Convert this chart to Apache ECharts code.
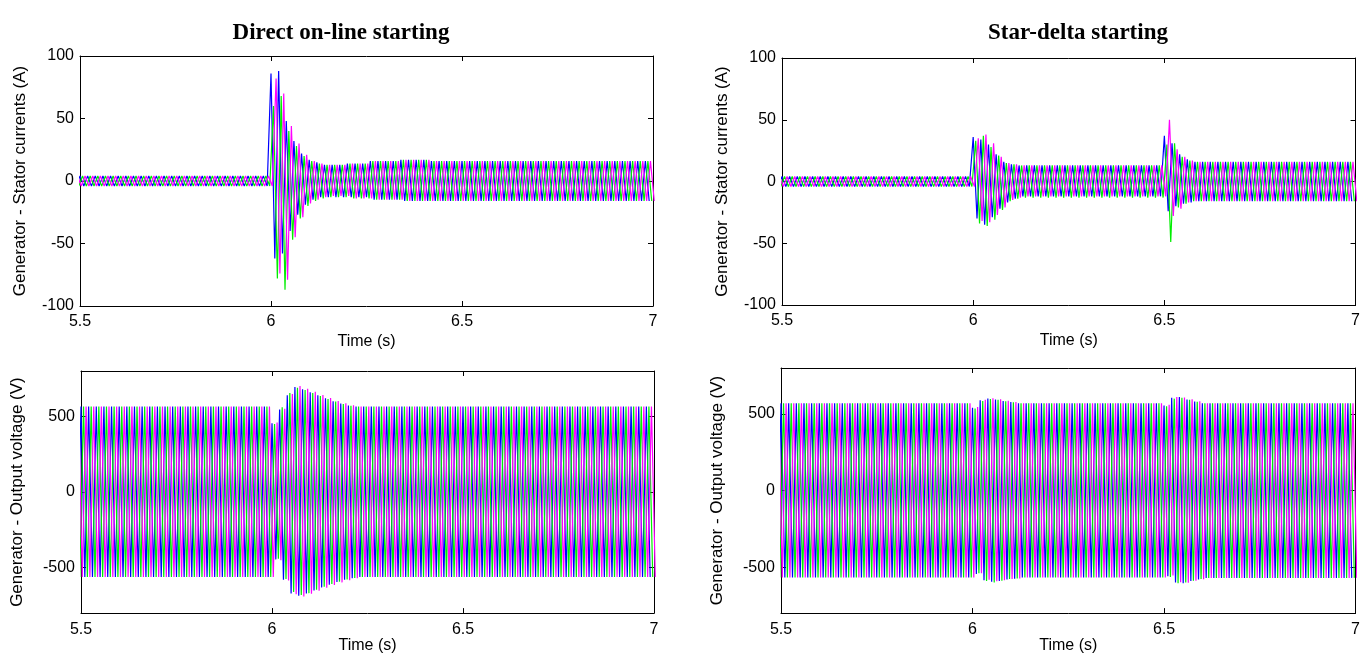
<!DOCTYPE html>
<html lang="en">
<head>
<meta charset="UTF-8">
<title>Generator starting</title>
<style>
  html, body { margin: 0; padding: 0; background: #fff; }
  #main { width: 1363px; height: 655px; }
</style>
</head>
<body>
<div id="main"></div>
<script src="https://cdn.jsdelivr.net/npm/echarts@6/dist/echarts.min.js"></script>
<script>
// 50 Hz waveforms, one entry per cycle: [number of cycles, positive peak, negative peak]
// first cycle starts at 5.48 s so the traces reach the left border
var T0 = 5.48, PERIOD = 0.02;

var titles = ['Direct on-line starting', 'Star-delta starting'];
var xTicks = [5.5, 6, 6.5, 7];
var currentTicks = [-100, -50, 0, 50, 100];
var voltageTicks = [-500, 0, 500];

// direct on-line, stator currents (A)
var dolCurA = [[26,4,-4],[1,86,-62],[1,88,-58],[1,48,-40],[1,32,-27],[1,22,-19],[1,17,-15],[1,15,-13],[3,13,-13],[3,14,-13],[4,16,-15],[4,17,-16],[29,16,-16]];
var dolCurB = [[26,4,-4],[1,60,-78],[1,68,-87],[1,40,-47],[1,28,-30],[1,20,-20],[1,16,-16],[1,14,-14],[3,13,-13],[3,14,-14],[4,16,-15],[4,17,-16],[29,16,-16]];
var dolCurC = [[26,4,-4],[1,82,-74],[1,70,-79],[1,44,-45],[1,30,-29],[1,21,-18],[1,16,-15],[1,14,-13],[3,13,-12],[3,14,-14],[4,16,-15],[4,17,-16],[29,16,-16]];

// star-delta, stator currents (A)
var sdCurA = [[26,4,-4],[1,36,-30],[1,34,-35],[1,30,-29],[1,22,-22],[1,16,-17],[1,14,-14],[19,13,-12],[1,37,-24],[1,31,-20],[1,22,-18],[1,18,-17],[21,16,-16]];
var sdCurB = [[26,4,-4],[1,33,-34],[1,37,-36],[1,28,-31],[1,21,-23],[1,15,-16],[1,14,-14],[19,13,-13],[1,30,-49],[1,31,-21],[1,20,-18],[1,17,-16],[21,16,-16]];
var sdCurC = [[26,4,-4],[1,35,-32],[1,38,-33],[1,31,-27],[1,20,-21],[1,15,-15],[1,14,-13],[19,13,-12],[1,50,-28],[1,26,-22],[1,20,-17],[1,17,-16],[21,16,-16]];

// direct on-line, output voltage (V)
var dolVoltA = [[26,565,-562],[1,455,-445],[1,545,-580],[1,640,-670],[1,695,-685],[1,680,-670],[1,660,-650],[1,640,-630],[1,620,-612],[1,600,-595],[1,585,-580],[1,572,-570],[39,565,-562]];
var dolVoltB = [[26,565,-562],[1,450,-440],[1,560,-575],[1,655,-660],[1,690,-680],[1,675,-668],[1,655,-645],[1,635,-625],[1,615,-608],[1,598,-592],[1,582,-578],[1,570,-568],[39,565,-562]];
var dolVoltC = [[26,565,-562],[1,460,-450],[1,550,-585],[1,648,-675],[1,700,-690],[1,682,-672],[1,662,-652],[1,642,-632],[1,622,-615],[1,602,-597],[1,586,-582],[1,573,-570],[39,565,-562]];

// star-delta, output voltage (V)
var sdVoltA = [[26,570,-568],[1,540,-545],[1,590,-585],[1,600,-595],[1,595,-590],[1,585,-580],[1,578,-575],[19,570,-568],[1,555,-560],[1,605,-600],[1,610,-605],[1,595,-590],[1,582,-580],[20,570,-570]];
var sdVoltB = [[26,570,-568],[1,535,-540],[1,585,-590],[1,598,-600],[1,592,-588],[1,583,-578],[1,576,-574],[19,570,-568],[1,550,-565],[1,600,-605],[1,606,-600],[1,592,-588],[1,580,-578],[20,570,-570]];
var sdVoltC = [[26,570,-568],[1,545,-540],[1,592,-582],[1,602,-592],[1,596,-586],[1,586,-578],[1,578,-574],[19,570,-568],[1,560,-555],[1,610,-598],[1,608,-602],[1,596,-588],[1,583,-579],[20,570,-570]];

var phaseColors = ['#0000ff', '#00ee00', '#ff00ff'];

function wave(runs, phase) {
  var pts = [], k = 0;
  runs.forEach(function (r) {
    for (var i = 0; i < r[0]; i++, k++) {
      var t = T0 + k * PERIOD + phase * PERIOD / 3;
      pts.push([t, r[1]]);
      pts.push([t + PERIOD / 2, r[2]]);
    }
  });
  return pts;
}

var panels = [
  { grid: { left: 80, top: 56, width: 573, height: 250 }, data: [dolCurA, dolCurB, dolCurC], current: true },
  { grid: { left: 782, top: 58, width: 574, height: 247 }, data: [sdCurA, sdCurB, sdCurC], current: true },
  { grid: { left: 81, top: 371, width: 573, height: 244 }, data: [dolVoltA, dolVoltB, dolVoltC], current: false },
  { grid: { left: 781, top: 368, width: 575, height: 247 }, data: [sdVoltA, sdVoltB, sdVoltC], current: false }
];

var font = 'Liberation Sans, Arial, sans-serif';
var grids = [], xAxes = [], yAxes = [], series = [];

panels.forEach(function (p, g) {
  grids.push(p.grid);
  ['bottom', 'top'].forEach(function (pos) {
    xAxes.push({
      type: 'value', gridIndex: g, position: pos,
      min: 5.5, max: 7, interval: 0.5,
      name: pos === 'bottom' ? 'Time (s)' : '',
      nameLocation: 'middle', nameGap: g < 2 ? 28 : 22,
      nameTextStyle: { color: '#000', fontSize: 16, fontFamily: font },
      axisLine: { show: true, onZero: false, lineStyle: { color: '#000', width: 1 } },
      axisTick: { show: true, inside: true, length: 5, lineStyle: { color: '#000' } },
      axisLabel: { show: pos === 'bottom', color: '#000', fontSize: 16, fontFamily: font, margin: 8 },
      splitLine: { show: false }
    });
  });
  ['left', 'right'].forEach(function (pos) {
    var y = {
      type: 'value', gridIndex: g, position: pos,
      name: pos === 'left' ? (p.current ? 'Generator - Stator currents (A)' : 'Generator - Output voltage (V)') : '',
      nameLocation: 'middle', nameGap: p.current ? 51 : 55, nameRotate: 90,
      nameTextStyle: { color: '#000', fontSize: 17, fontFamily: font },
      axisLine: { show: true, onZero: false, lineStyle: { color: '#000', width: 1 } },
      axisTick: { show: true, inside: true, length: 5, lineStyle: { color: '#000' } },
      axisLabel: { show: pos === 'left', color: '#000', fontSize: 16, fontFamily: font, margin: 6 },
      splitLine: { show: false }
    };
    if (p.current) {
      y.min = -100; y.max = 100; y.interval = 50;
    } else {
      y.min = -800; y.max = 800;
      y.axisLabel.customValues = voltageTicks;
      y.axisTick.customValues = voltageTicks;
    }
    yAxes.push(y);
  });
  p.data.forEach(function (runs, ph) {
    series.push({
      type: 'line', xAxisIndex: 2 * g, yAxisIndex: 2 * g,
      data: wave(runs, ph), showSymbol: false, symbol: 'none',
      lineStyle: { color: phaseColors[ph], width: 1.2 },
      silent: true, clip: true
    });
  });
});

var chart = echarts.init(document.getElementById('main'));
chart.setOption({
  animation: false,
  backgroundColor: '#fff',
  title: [
    { text: titles[0], left: 336, top: 17, textAlign: 'center',
      textStyle: { fontFamily: 'Liberation Serif, Times New Roman, serif', fontWeight: 'bold', fontSize: 23, color: '#000' } },
    { text: titles[1], left: 1073, top: 17, textAlign: 'center',
      textStyle: { fontFamily: 'Liberation Serif, Times New Roman, serif', fontWeight: 'bold', fontSize: 23, color: '#000' } }
  ],
  grid: grids,
  xAxis: xAxes,
  yAxis: yAxes,
  series: series
});
</script>
</body>
</html>
